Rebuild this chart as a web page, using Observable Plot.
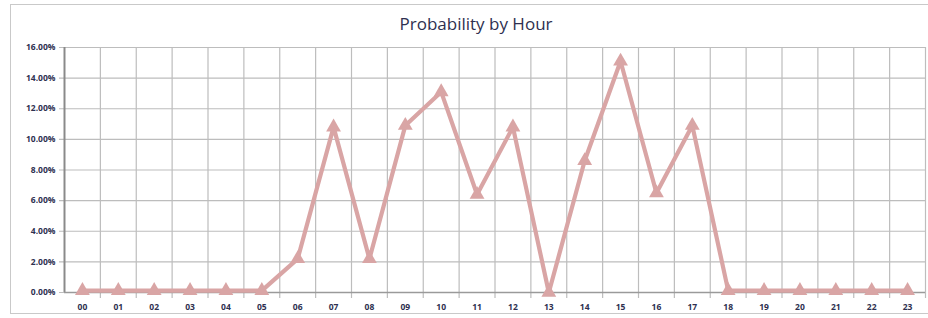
<!DOCTYPE html>
<html>
<head>
<meta charset="utf-8">
<script src="https://cdn.jsdelivr.net/npm/d3@7"></script>
<script src="https://cdn.jsdelivr.net/npm/@observablehq/plot@0.6"></script>
<style>
  html, body { margin: 0; padding: 0; background: #fff; }
  #wrap { position: relative; width: 928px; height: 318px; overflow: hidden; }
  #border { position: absolute; left: 10px; top: 4px; width: 930px; height: 308px;
            border: 1.5px solid #c9c9c9; pointer-events: none; }
</style>
</head>
<body>
<div id="wrap"><div id="border"></div></div>
<script>
const title = "Probability by Hour";
const hours = ["00","01","02","03","04","05","06","07","08","09","10","11","12","13","14","15","16","17","18","19","20","21","22","23"];
const probability = [0.0012,0.0012,0.0012,0.0012,0.0012,0.0012,0.022,0.108,0.022,0.109,0.131,0.064,0.108,0.0,0.086,0.151,0.065,0.109,0.0012,0.0012,0.0012,0.0012,0.0012,0.0012];
const yTicks = [0,0.02,0.04,0.06,0.08,0.10,0.12,0.14,0.16];

const data = hours.map((h, i) => ({i, h, p: probability[i]}));
const bounds = d3.range(-0.5, hours.length, 1);

const lineColor = "#d9a5a5";
const labelColor = "#2e3050";

const chart = Plot.plot({
  width: 928,
  height: 318,
  marginLeft: 64,
  marginRight: 3,
  marginTop: 47,
  marginBottom: 26,
  style: {fontFamily: "'Open Sans', 'DejaVu Sans', sans-serif", background: "transparent", overflow: "visible"},
  x: {domain: [-0.5, hours.length - 0.5], axis: null},
  y: {domain: [0, 0.16], axis: null},
  marks: [
    Plot.ruleY(yTicks, {stroke: "#bdbdbd", strokeWidth: 1.2, insetLeft: -5}),
    Plot.ruleX(bounds.slice(1), {stroke: "#bdbdbd", strokeWidth: 1.2, insetBottom: -6}),
    Plot.ruleX([-0.5], {stroke: "#8a8a8a", strokeWidth: 2}),
    Plot.ruleY([0], {stroke: "#9a9a9a", strokeWidth: 1.5}),
    Plot.text(yTicks, {x: -0.5, y: d => d, text: d => (d * 100).toFixed(2) + "%", textAnchor: "end", dx: -9,
      fill: labelColor, fontSize: 8.5, fontWeight: "bold"}),
    Plot.text(data, {x: "i", y: 0, text: "h", dy: 15, fill: labelColor, fontSize: 8.5, fontWeight: "bold"}),
    Plot.line(data, {x: "i", y: "p", stroke: lineColor, strokeWidth: 4.2, strokeLinejoin: "miter"}),
    Plot.dot(data, {x: "i", y: "p", symbol: "triangle", r: 5.5, fill: lineColor, stroke: "none"}),
    Plot.text([title], {frameAnchor: "top", dx: -19, dy: -30, fill: labelColor, fontSize: 17,
      fontFamily: "'Open Sans', sans-serif"})
  ]
});
document.getElementById("wrap").prepend(chart);
</script>
</body>
</html>
